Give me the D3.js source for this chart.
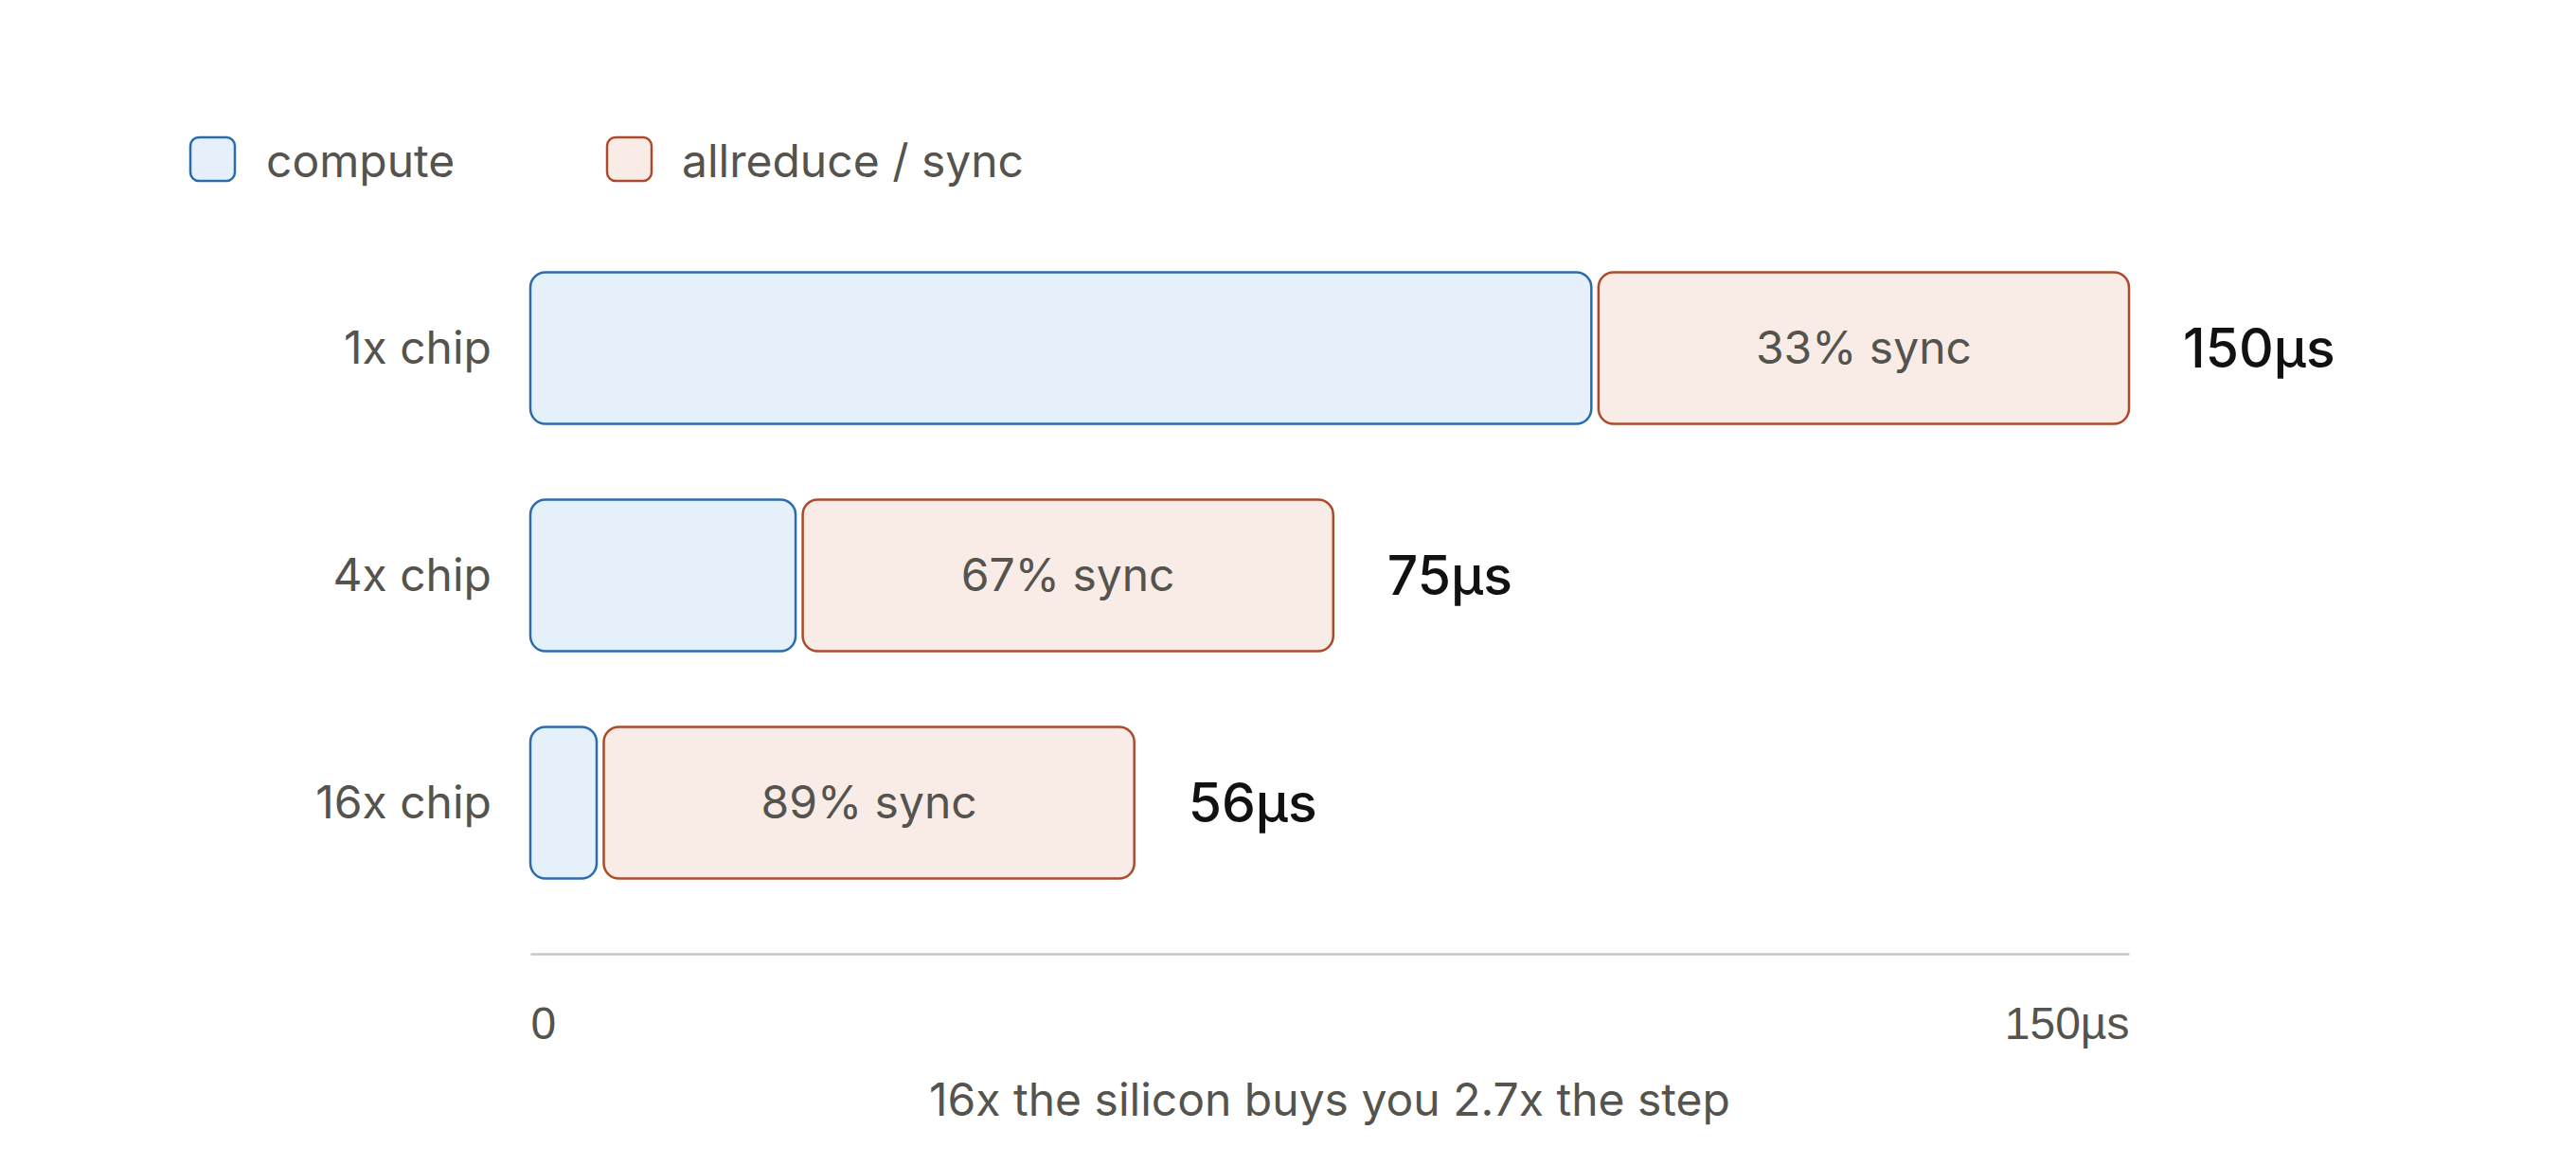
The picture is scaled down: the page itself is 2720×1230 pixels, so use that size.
<!DOCTYPE html>
<html>
<head>
<meta charset="utf-8">
<script src="https://cdn.jsdelivr.net/npm/d3@7"></script>
<style>
  html, body { margin: 0; padding: 0; background: #ffffff; }
  svg { display: block; font-family: Inter, "Noto Sans", "Liberation Sans", sans-serif; }
</style>
</head>
<body>
<svg id="chart" width="2720" height="1230"></svg>
<script>
// ---- data ----
const categories = ["1x chip", "4x chip", "16x chip"];
const computeValues = [100, 25, 6.25];
const syncValues = [50, 50, 50];
const totalLabels = ["150µs", "75µs", "56µs"];
const syncLabels = ["33% sync", "67% sync", "89% sync"];
const seriesNames = ["compute", "allreduce / sync"];
const xTickValues = [0, 150];
const xTickLabels = ["0", "150µs"];
const subtitle = "16x the silicon buys you 2.7x the step";

// ---- styles ----
const gray = "#55534e";
const fills = ["#e6f0fa", "#f9ece7"];
const strokes = ["#2b6cb0", "#ad4a2c"];
const fs = 48;

const svg = d3.select("#chart");
const gap = 7.5;
const x = d3.scaleLinear().domain([0, 150]).range([560, 2240.5]);
const y = d3.scaleBand().domain(categories).range([247.5, 967.5]).paddingInner(1/3).paddingOuter(1/6);
const axisY = 1007;

// legend
const legendItems = [{x: 201, tx: 281}, {x: 641, tx: 720}];
const lg = svg.append("g");
seriesNames.forEach((name, i) => {
  lg.append("rect")
    .attr("x", legendItems[i].x).attr("y", 145)
    .attr("width", 47).attr("height", 46)
    .attr("rx", 9).attr("ry", 9)
    .attr("fill", fills[i]).attr("stroke", strokes[i]).attr("stroke-width", 2.5);
  lg.append("text")
    .attr("x", legendItems[i].tx).attr("y", 187)
    .attr("fill", gray).attr("font-size", fs)
    .text(name);
});

const rows = categories.map((c, i) => ({
  cat: c, compute: computeValues[i], sync: syncValues[i],
  total: totalLabels[i], syncLabel: syncLabels[i]
}));

const g = svg.append("g");
// compute bars
g.selectAll("rect.compute").data(rows).enter().append("rect")
  .attr("class", "compute")
  .attr("x", d => x(0))
  .attr("y", d => y(d.cat))
  .attr("width", d => x(d.compute) - x(0))
  .attr("height", y.bandwidth())
  .attr("rx", 16).attr("ry", 16)
  .attr("fill", fills[0]).attr("stroke", strokes[0]).attr("stroke-width", 2.5);

// sync bars
g.selectAll("rect.sync").data(rows).enter().append("rect")
  .attr("class", "sync")
  .attr("x", d => x(d.compute) + gap)
  .attr("y", d => y(d.cat))
  .attr("width", d => x(d.compute + d.sync) - x(d.compute))
  .attr("height", y.bandwidth())
  .attr("rx", 16).attr("ry", 16)
  .attr("fill", fills[1]).attr("stroke", strokes[1]).attr("stroke-width", 2.5);

// sync labels
g.selectAll("text.synclabel").data(rows).enter().append("text")
  .attr("x", d => (x(d.compute) + gap + x(d.compute + d.sync) + gap) / 2)
  .attr("y", d => y(d.cat) + y.bandwidth() / 2)
  .attr("dy", "0.35em")
  .attr("text-anchor", "middle")
  .attr("fill", gray).attr("font-size", fs)
  .text(d => d.syncLabel);

// total labels
g.selectAll("text.total").data(rows).enter().append("text")
  .attr("x", d => x(d.compute + d.sync) + gap + 57)
  .attr("y", d => y(d.cat) + y.bandwidth() / 2)
  .attr("dy", "0.36em")
  .attr("fill", "#111111").attr("font-size", 57).attr("font-weight", 500)
  .text(d => d.total);

// category labels
g.selectAll("text.cat").data(rows).enter().append("text")
  .attr("x", 519)
  .attr("y", d => y(d.cat) + y.bandwidth() / 2)
  .attr("dy", "0.35em")
  .attr("text-anchor", "end")
  .attr("fill", gray).attr("font-size", fs)
  .text(d => d.cat);

// x axis
const axisG = svg.append("g").attr("transform", `translate(0,${axisY})`);
const xAxis = d3.axisBottom(x.copy().range([560, 2248]))
  .tickValues(xTickValues)
  .tickSize(0)
  .tickPadding(0)
  .tickFormat((d, i) => xTickLabels[i]);
axisG.call(xAxis);
axisG.select(".domain").attr("stroke", "#c8c7c2").attr("stroke-width", 2.5);
axisG.selectAll(".tick text")
  .attr("fill", gray).attr("font-size", fs)
  .attr("font-family", null)
  .attr("dy", null)
  .attr("y", 90)
  .attr("text-anchor", (d, i) => i === 0 ? "start" : "end");

// subtitle
svg.append("text")
  .attr("x", (560 + 2248) / 2).attr("y", 1178)
  .attr("text-anchor", "middle")
  .attr("fill", gray).attr("font-size", fs)
  .text(subtitle);
</script>
</body>
</html>
